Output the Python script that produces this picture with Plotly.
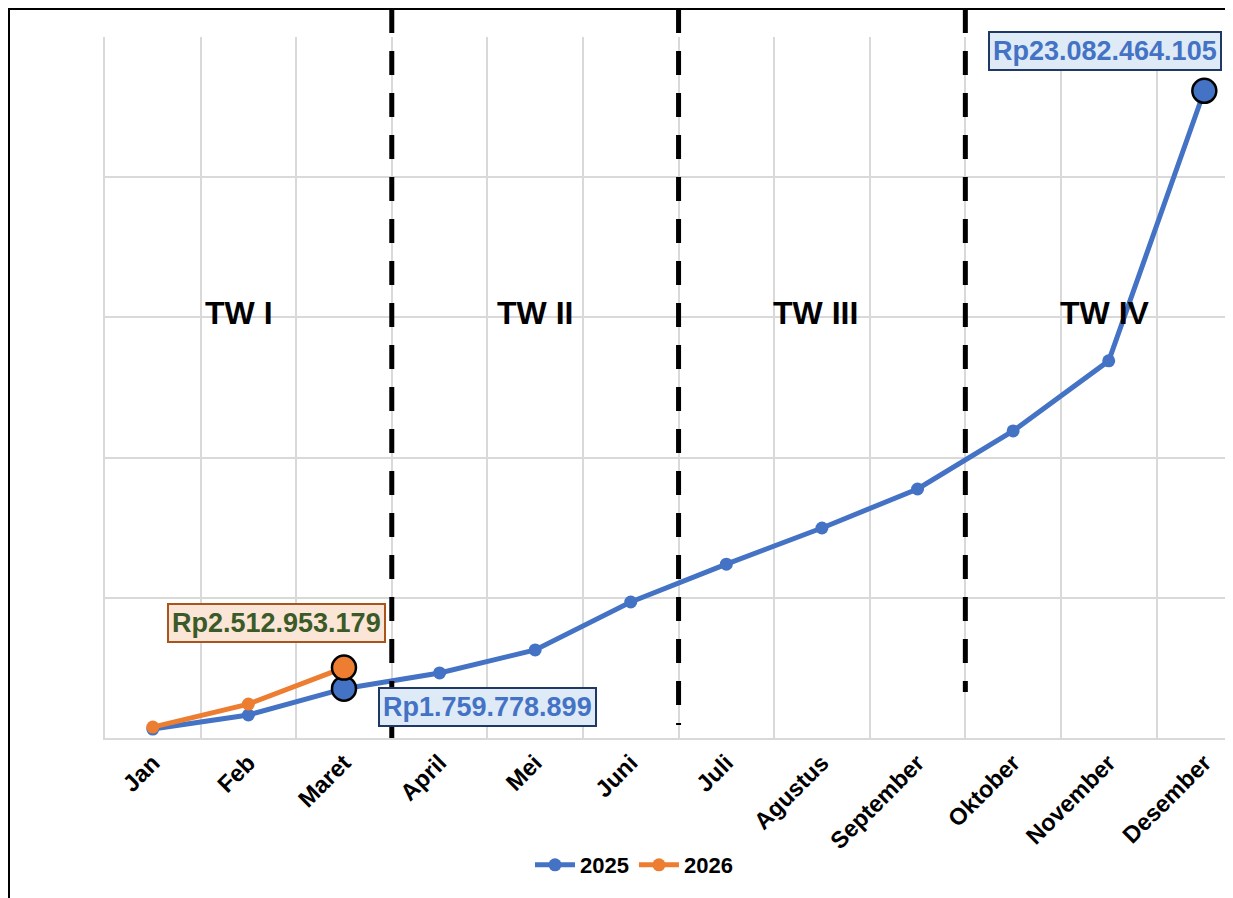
import plotly.graph_objects as go

months = ["Jan", "Feb", "Maret", "April", "Mei", "Juni", "Juli", "Agustus",
          "September", "Oktober", "November", "Desember"]
v2025 = [0.32e9, 0.82e9, 1759778899, 2.32e9, 3.14e9, 4.85e9, 6.20e9, 7.49e9,
         8.88e9, 10.95e9, 13.45e9, 23082464105]
months_2026 = ["Jan", "Feb", "Maret"]
v2026 = [0.39e9, 1.21e9, 2512953179]

quarters = ["TW I", "TW II", "TW III", "TW IV"]
quarter_pos = [0.9, 4.0, 6.93, 9.96]
quarter_bounds = [2.5, 5.5, 8.5]

BLUE = "#4472C4"
ORANGE = "#ED7D31"
GRID = "#D9D9D9"
FONT = "Liberation Sans, Arial, sans-serif"

OFF = 8  # page body margin
W, H = 1233 - OFF, 898 - OFF
L, T = 105 - OFF, 37 - OFF
B = H - (738 - OFF)
PW = W - L
PH = H - T - B


def px_x(px):
    return (px - OFF - L) / PW


def px_y(py):
    return (H - B - (py - OFF)) / PH


fig = go.Figure()
fig.add_trace(go.Scatter(x=months, y=v2025, mode="lines+markers", name="2025",
                         line=dict(color=BLUE, width=5),
                         marker=dict(size=13, color=BLUE)))
fig.add_trace(go.Scatter(x=months_2026, y=v2026, mode="lines+markers", name="2026",
                         line=dict(color=ORANGE, width=5),
                         marker=dict(size=13, color=ORANGE)))

# highlighted points
fig.add_trace(go.Scatter(x=[months[2], months[11]], y=[v2025[2], v2025[11]],
                         mode="markers", showlegend=False, hoverinfo="skip",
                         marker=dict(size=24, color=BLUE, line=dict(color="black", width=2.5))))
fig.add_trace(go.Scatter(x=[months_2026[2]], y=[v2026[2]],
                         mode="markers", showlegend=False, hoverinfo="skip",
                         marker=dict(size=24, color=ORANGE, line=dict(color="black", width=2.5))))


def rp(v):
    return "Rp" + f"{int(v):,}".replace(",", ".")


LBL = 27
annotations = []
annotations.append(dict(x=months_2026[2], y=v2026[2], xref="x", yref="y",
                        text="<b>" + rp(v2026[2]) + "</b>", showarrow=False,
                        xshift=-67, yshift=45,
                        font=dict(family=FONT, size=LBL, color="#3A5A28"),
                        bgcolor="#FBE5D6", bordercolor="#A9541A", borderwidth=2, borderpad=3))
annotations.append(dict(x=months[2], y=v2025[2], xref="x", yref="y",
                        text="<b>" + rp(v2025[2]) + "</b>", showarrow=False,
                        xshift=144, yshift=-18,
                        font=dict(family=FONT, size=LBL, color=BLUE),
                        bgcolor="#DEEBF7", bordercolor="#1F3864", borderwidth=2, borderpad=3))
annotations.append(dict(x=months[11], y=v2025[11], xref="x", yref="y",
                        text="<b>" + rp(v2025[11]) + "</b>", showarrow=False,
                        xshift=-99, yshift=40,
                        font=dict(family=FONT, size=LBL, color=BLUE),
                        bgcolor="#DEEBF7", bordercolor="#1F3864", borderwidth=2, borderpad=3))
for q, p in zip(quarters, quarter_pos):
    annotations.append(dict(x=p, y=px_y(313), xref="x", yref="paper",
                            text="<b>" + q + "</b>", showarrow=False,
                            font=dict(family=FONT, size=32, color="black")))

shapes = []
bottoms = [738, 725, 692]
for xb, yb in zip(quarter_bounds, bottoms):
    shapes.append(dict(type="line", xref="x", yref="paper", x0=xb, x1=xb,
                       y0=px_y(9), y1=px_y(yb),
                       line=dict(color="black", width=5, dash="24px,18px")))
# outer frame
shapes.append(dict(type="line", xref="paper", yref="paper", x0=px_x(9), x1=px_x(9),
                   y0=px_y(9), y1=px_y(910), line=dict(color="black", width=2)))
shapes.append(dict(type="line", xref="paper", yref="paper", x0=px_x(8), x1=px_x(1245),
                   y0=px_y(9), y1=px_y(9), line=dict(color="black", width=2)))

fig.update_layout(
    width=W, height=H,
    margin=dict(l=L, r=0, t=T, b=B),
    paper_bgcolor="white", plot_bgcolor="white",
    font=dict(family=FONT, color="black"),
    showlegend=True,
    legend=dict(orientation="h", x=px_x(634), y=px_y(865), xanchor="center", yanchor="middle",
                font=dict(family=FONT, size=22, color="black", weight="bold"),
                itemwidth=40, tracegroupgap=10),
    annotations=annotations,
    shapes=shapes,
)
fig.update_xaxes(type="category", categoryorder="array", categoryarray=months,
                 range=[-0.5, 11.3], tickson="boundaries", showgrid=True,
                 gridcolor=GRID, gridwidth=1.5, showline=True, linecolor=GRID, linewidth=1.5,
                 ticks="", tickangle=-45,
                 tickfont=dict(family=FONT, size=23.5, color="black", weight="bold"))
fig.update_yaxes(range=[0, 25e9], dtick=5e9, showgrid=True, gridcolor=GRID, gridwidth=1.5,
                 showline=True, linecolor=GRID, linewidth=1.5, mirror=False,
                 showticklabels=False, zeroline=False, ticks="")

fig.write_html("out.html")
